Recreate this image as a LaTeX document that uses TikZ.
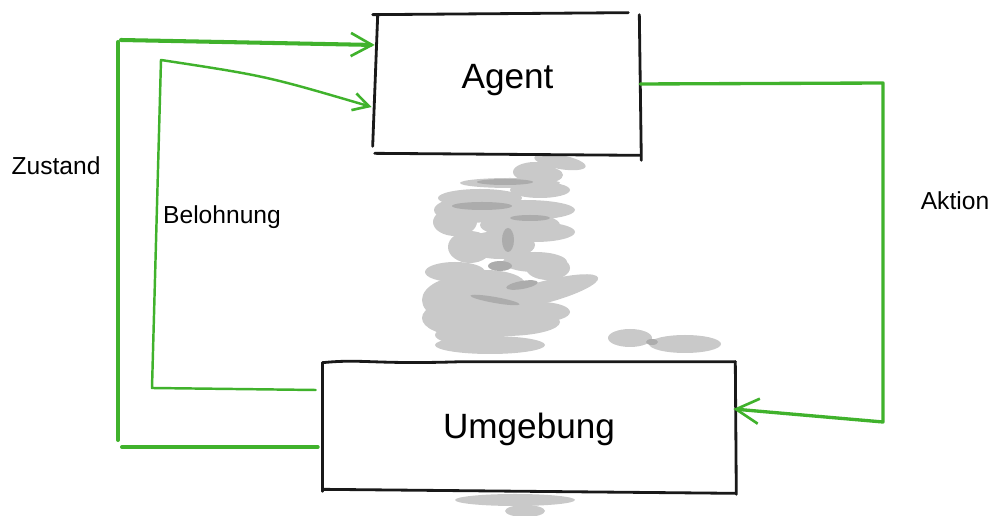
\documentclass[tikz,border=0pt]{standalone}
\usepackage{fontspec}
\setmainfont{Liberation Sans}
\usetikzlibrary{arrows.meta,calc}
\definecolor{pfeilgruen}{RGB}{64,178,44}
\definecolor{wischgrau}{RGB}{201,201,201}
\definecolor{wischdunkel}{RGB}{172,172,172}
\begin{document}
\begin{tikzpicture}[x=0.02cm,y=-0.02cm,line cap=round,line join=round]
	\tikzset{kasten/.style={inner sep=0pt,font=\fontsize{20}{24}\selectfont},
		strich/.style={black!90,line width=1.6pt},
		beschriftung/.style={font=\fontsize{14}{17}\selectfont},
		gruen/.style={pfeilgruen,line width=#1},
		spitze/.style={-{Straight Barb[length=#1,width=1.1*#1,line width=1.5pt]}}}
	\useasboundingbox (0,0) rectangle (992,516);
	% Wischspur zwischen den Kaesten
	\foreach \x/\y/\a/\b/\r in {560/162/26/7/-10,535/172/22/10/0,510/183/50/5/0,540/190/30/8/0,
			480/198/42/9/0,470/210/36/13/0,525/210/50/10/0,535/232/40/10/0,500/245/35/14/0,
			470/247/22/16/0,535/262/32/10/0,455/272/30/10/0,545/292/55/11/15,470/300/48/25/0,
			505/322/55/14/0,490/345/55/9/0,470/335/35/10/0,630/338/22/9/0,685/344/36/9/0,
			515/500/60/6/0,525/511/20/6/0,455/222/22/14/0,520/225/40/12/0,545/175/18/8/0,
			548/268/22/12/0,462/318/40/18/0,485/284/40/14/0,540/312/30/10/0}
		\fill[wischgrau,rotate around={\r:(\x,\y)}] (\x,\y) ellipse [x radius=\a, y radius=\b];
	\foreach \x/\y/\a/\b/\r in {505/182/28/3/0,482/206/30/4/0,508/240/6/12/0,500/266/12/5/0,
			495/300/25/3/-10,522/285/16/4/10,652/342/6/3/0,530/218/20/3/0}
		\fill[wischdunkel,rotate around={\r:(\x,\y)}] (\x,\y) ellipse [x radius=\a, y radius=\b];

	\node[kasten,minimum width=5.3cm,minimum height=2.76cm,text depth=9pt] (agent) at (507.5,84) {Agent};
	\node[kasten,minimum width=8.24cm,minimum height=2.56cm,text depth=0pt] (umgebung) at (529,426) {Umgebung};

	% handgezeichnete Rahmen
	\draw[strich] ($(agent.north west)+(-2,0)$) -- ($(agent.north east)+(-12,-2)$);
	\draw[strich] ($(agent.north east)+(-1,0)$) -- ($(agent.south east)+(1,7)$);
	\draw[strich] ($(agent.south west)+(0,0)$) -- ($(agent.south east)+(0,2)$);
	\draw[strich] ($(agent.north west)+(3,1)$) -- ($(agent.south west)+(-2,-7)$);
	\draw[strich] ($(umgebung.north west)+(0,1)$) .. controls ($(umgebung.north west)+(40,-3)$)
		and ($(umgebung.north west)+(50,3)$) .. ($(umgebung.north west)+(140,0)$)
		-- ($(umgebung.north east)+(0,0)$);
	\draw[strich] ($(umgebung.north east)+(0,0)$) -- ($(umgebung.south east)+(1,4)$);
	\draw[strich] ($(umgebung.south west)+(0,-1)$) -- ($(umgebung.south east)+(0,3)$);
	\draw[strich] ($(umgebung.north west)+(0,1)$) -- ($(umgebung.south west)+(0,1)$);

	% Zustand
	\coordinate (z1) at (122,447);
	\coordinate (z2) at (118,440);
	\coordinate (z3) at (118,42);
	\coordinate (z4) at (121,40);
	\draw[gruen=2.3pt] ($(umgebung.west)+(-5,21)$) -- (z1);
	\draw[gruen=2.3pt] (z2) -- (z3);
	\draw[gruen=2.3pt,spitze=12pt] (z4) -- ($(agent.west)+(0,-39)$);
	% Belohnung
	\coordinate (b1) at (152,388);
	\coordinate (b2) at (161,60);
	\draw[gruen=1.4pt,spitze=9pt] ($(umgebung.west)+(-7,-36)$) -- (b1) -- (b2)
		.. controls (266,76) .. ($(agent.west)+(-3,23)$);
	% Aktion
	\coordinate (a1) at (883,83);
	\coordinate (a2) at (883,422);
	\draw[gruen=1.9pt,spitze=13pt] (agent.east) -- (a1) -- (a2) -- ($(umgebung.east)+(-2,-17)$);

	\node[beschriftung] (zustand) at (56,166) {Zustand};
	\node[beschriftung] (belohnung) at (222,217) {Belohnung};
	\node[beschriftung] (aktion) at (955,201) {Aktion};
\end{tikzpicture}
\end{document}
